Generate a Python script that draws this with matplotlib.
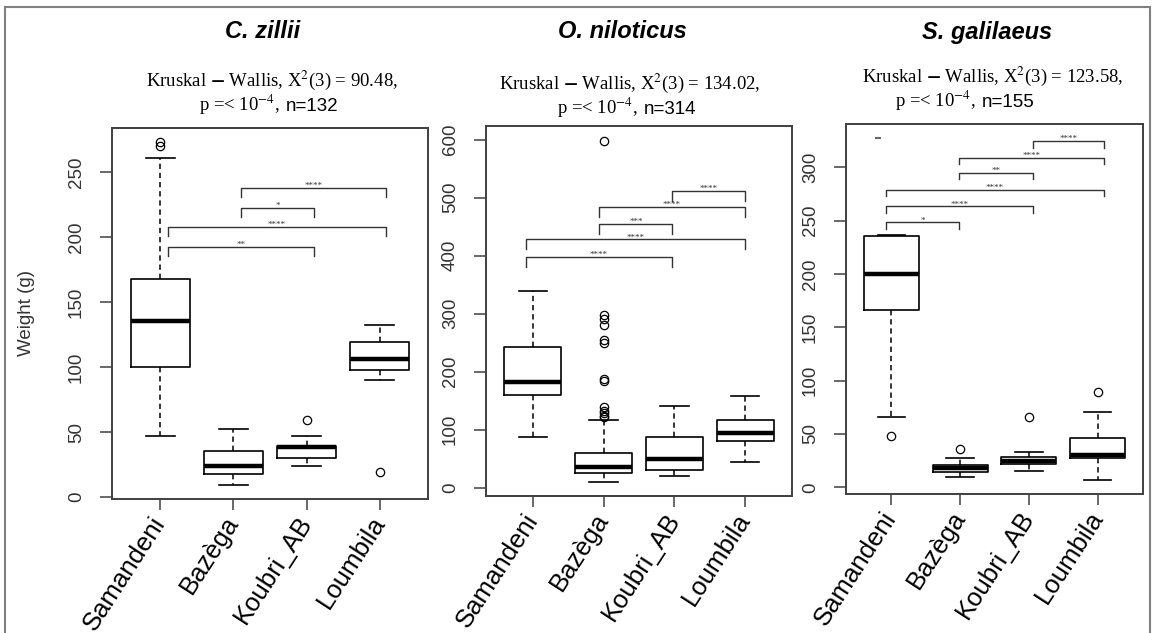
import matplotlib.pyplot as plt
from matplotlib.patches import Rectangle

plt.rcParams['mathtext.fontset'] = 'stix'

sites = ['Samandeni', 'Bazèga', 'Koubri_AB', 'Loumbila']
species = ['C. zillii', 'O. niloticus', 'S. galilaeus']
kw_stat = ['90.48', '134.02', '123.58']
n_fish = [132, 314, 155]

# C. zillii
cz_med = [135.4, 23.6, 38.5, 106]
cz_q1 = [100, 17.7, 29.7, 97.4]
cz_q3 = [167.7, 35.4, 39, 119.5]
cz_lo = [47, 9.5, 23.6, 90]
cz_hi = [261, 52, 47, 132.5]
cz_out = [[270, 273], [], [59.5], [19.5]]

# O. niloticus
on_med = [183, 36, 50, 93.7]
on_q1 = [160, 25.3, 30.5, 81]
on_q3 = [242, 60, 88, 116.7]
on_lo = [88, 10.3, 20.7, 43.8]
on_hi = [339, 116.7, 141, 158]
on_out = [[], [598, 298, 290, 281, 255, 250, 187, 184, 139, 133, 128, 124, 122], [], []]

# S. galilaeus
sg_med = [200, 17.8, 25, 30.3]
sg_q1 = [166.3, 14.6, 21.6, 27.2]
sg_q3 = [235.7, 20.9, 28, 46.5]
sg_lo = [65.7, 10, 15.6, 6.8]
sg_hi = [236.5, 27.2, 32.8, 71]
sg_out = [[48.4], [36.2], [65.7], [89]]

# pairwise comparisons: (group a, group b, bracket height, label)
cz_pairs = [(2, 4, 238, '****'), (2, 3, 222.5, '*'), (1, 4, 208, '****'), (1, 3, 192.5, '**')]
on_pairs = [(3, 4, 511.5, '****'), (2, 4, 483.4, '****'), (2, 3, 455, '***'),
            (1, 4, 428, '****'), (1, 3, 397.8, '****')]
sg_pairs = [(3, 4, 324.2, '****'), (2, 4, 309, '****'), (2, 3, 294.6, '**'),
            (1, 4, 278.6, '****'), (1, 3, 263.2, '****'), (1, 2, 248.2, '*')]

W, H = 1154, 633
fig = plt.figure(figsize=(W / 100, H / 100), dpi=100)

# outer frame
fig.add_artist(Rectangle((5 / W, -0.05), 1145 / W, 1 - 7 / H + 0.05, transform=fig.transFigure,
                         fill=False, edgecolor='#808080', lw=1.5))

panels = [
    dict(stats=(cz_med, cz_q1, cz_q3, cz_lo, cz_hi, cz_out), pairs=cz_pairs,
         box=(112, 128, 428, 499), ylim=(-1.5, 284), yticks=range(0, 251, 50),
         bx=[1.1, 2.1, 3.1, 4.08], tip=7, title_x=263, sub_x=272, base_y=(86, 111), p_x=199),
    dict(stats=(on_med, on_q1, on_q3, on_lo, on_hi, on_out), pairs=on_pairs,
         box=(486, 126, 792, 496), ylim=(-14.3, 623.6), yticks=range(0, 601, 100),
         bx=[0.9, 1.94, 2.97, 3.99], tip=17, title_x=622, sub_x=630, base_y=(89, 114), p_x=557),
    dict(stats=(sg_med, sg_q1, sg_q3, sg_lo, sg_hi, sg_out), pairs=sg_pairs,
         box=(846, 124, 1143, 494), ylim=(-6.3, 340.5), yticks=range(0, 301, 50),
         bx=[0.92, 1.99, 3.06, 4.09], tip=6, title_x=987, sub_x=993, base_y=(82, 107), p_x=895),
]

axc = '#404040'
for k, p in enumerate(panels):
    l, t, r, b = p['box']
    ax = fig.add_axes([l / W, 1 - b / H, (r - l) / W, (b - t) / H])
    med, q1, q3, lo, hi, out = p['stats']
    bstats = [dict(med=med[i], q1=q1[i], q3=q3[i], whislo=lo[i], whishi=hi[i], fliers=out[i])
              for i in range(len(sites))]
    ax.bxp(bstats, positions=[1, 2, 3, 4], widths=0.8, capwidths=0.4,
           boxprops=dict(color='black', lw=1.2),
           medianprops=dict(color='black', lw=3.2),
           whiskerprops=dict(color='black', lw=1.1, linestyle=(0, (3.5, 2.5))),
           capprops=dict(color='black', lw=1.2),
           flierprops=dict(marker='o', markerfacecolor='none', markeredgecolor='black',
                           markersize=6, markeredgewidth=0.9))
    ax.set_xlim(0.34, 4.66)
    ax.set_ylim(*p['ylim'])
    ax.set_yticks(list(p['yticks']))
    ax.set_xticks([1, 2, 3, 4])
    ax.set_xticklabels(sites, rotation=57, ha='right', va='center', rotation_mode='anchor',
                       fontsize=18.5, family='Liberation Sans')
    for lab in ax.get_yticklabels():
        lab.set_rotation(90)
        lab.set_va('center')
        lab.set_fontsize(13.5)
        lab.set_family('Liberation Sans')
        lab.set_color('#333333')
    ax.tick_params(axis='y', length=8.5, width=1.1, color=axc, pad=11)
    ax.tick_params(axis='x', length=8, width=1.1, color=axc, pad=6)
    for s in ax.spines.values():
        s.set_color(axc)
        s.set_linewidth(1.4)

    # significance brackets
    bx = p['bx']
    for a, c, y, lab in p['pairs']:
        x0, x1 = bx[a - 1], bx[c - 1]
        ax.plot([x0, x0, x1, x1], [y - p['tip'], y, y, y - p['tip']], color='#333333', lw=1)
        ax.text((x0 + x1) / 2, y, lab, ha='center', va='baseline', fontsize=6.5,
                family='Liberation Serif', color='#333333')

    if k == 2:
        ax.plot([0.78, 0.84], [327, 327], color='#666666', lw=1.5)
    if k == 0:
        ax.set_ylabel('Weight (g)', fontsize=13.5, family='Liberation Sans', color='#333333',
                      labelpad=24)

    fig.text(p['title_x'] / W, 1 - 32 / H, species[k], ha='center', va='center',
             fontsize=17, family='Liberation Sans', weight='bold', style='italic')
    fig.text(p['sub_x'] / W, 1 - p['base_y'][0] / H,
             r'Kruskal $\mathbf{-}$ Wallis, X$^2$(3) = ' + kw_stat[k] + ',',
             ha='center', va='baseline', fontsize=13.5, family='Liberation Serif')
    yb = 1 - p['base_y'][1] / H
    t1 = fig.text(p['p_x'] / W, yb, r'p =< 10$^{-4}$,',
                  ha='left', va='baseline', fontsize=13.5, family='Liberation Serif')
    fig.add_artist(plt.Annotation('n=%d' % n_fish[k], xy=(1, yb), xycoords=(t1, 'figure fraction'),
                                  xytext=(4, 0), textcoords='offset points', va='baseline',
                                  ha='left', fontsize=13.5, family='Liberation Sans'))

fig.savefig('out.png', dpi=100)
